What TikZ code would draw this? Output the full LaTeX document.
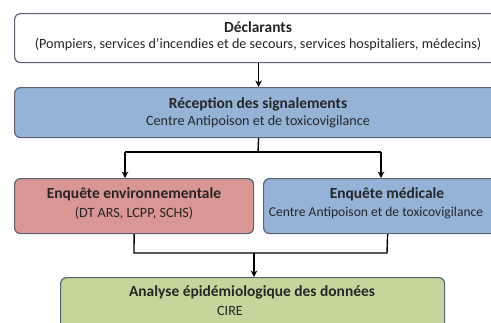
\documentclass[tikz,border=0pt]{standalone}
\usepackage{fontspec}
\setmainfont{Carlito}
\usetikzlibrary{arrows.meta}
\definecolor{bordc}{RGB}{90,100,115}
\definecolor{bluef}{RGB}{149,179,215}
\definecolor{redf}{RGB}{217,150,148}
\definecolor{greenf}{RGB}{195,214,155}
\tikzset{
  box/.style={draw=bordc, line width=1.2pt, rounded corners=6pt, inner sep=0pt, anchor=north west},
  ttl/.style={font=\fontsize{15.5}{17}\selectfont\bfseries, text=black!85},
  sub/.style={font=\fontsize{14.2}{16}\selectfont, text=black!85},
  conn/.style={line width=1.4pt, black},
  arr/.style={conn, -{Stealth[length=6.5pt,width=6.5pt]}}
}
\begin{document}
\begin{tikzpicture}[x=1bp,y=-1bp]
\clip (0,0) rectangle (491,322);
\fill[white] (0,0) rectangle (491,322);
% boxes
\node[box, fill=white, minimum width=488bp, minimum height=49bp] (decl) at (14,13) {};
\node[box, fill=bluef, minimum width=488bp, minimum height=50bp] (rec) at (14,87) {};
\node[box, fill=redf, minimum width=239bp, minimum height=55bp] (env) at (14,178) {};
\node[box, fill=bluef, minimum width=248bp, minimum height=55bp] (med) at (263,178) {};
\node[box, fill=greenf, minimum width=384bp, minimum height=70bp] (ana) at (60,277) {};
% texts
\node[ttl] (declt) at (258,27) {Déclarants};
\node[sub] (decls) at (258,44) {(Pompiers, services d’incendies et de secours, services hospitaliers, médecins)};
\node[ttl] (rect) at (258,104) {Réception des signalements};
\node[sub] (recs) at (258,122) {Centre Antipoison et de toxicovigilance};
\node[ttl] (envt) at (134,194) {Enquête environnementale};
\node[sub] (envs) at (134,213) {(DT ARS, LCPP, SCHS)};
\node[ttl] (medt) at (387,194) {Enquête médicale};
\node[sub, font=\fontsize{13.6}{16}\selectfont, inner sep=1pt] (meds) at (376,213) {Centre Antipoison et de toxicovigilance};
\node[ttl] (anat) at (252,292) {Analyse épidémiologique des données};
\node[sub] (anas) at (230,311) {CIRE};
% connectors
\coordinate (s1) at (258,152);
\coordinate (sl) at (125,152);
\coordinate (sr) at (381,152);
\draw[arr] (decl.south) -- (rec.north);
\draw[conn] (rec.south) -- (s1);
\draw[conn] (sl) -- (sr);
\draw[arr] (sl) -- (sl |- env.north);
\draw[arr] (sr) -- (sr |- med.north);
\coordinate (jl) at (134,253);
\coordinate (jr) at (387,253);
\coordinate (jm) at (254,253);
\draw[conn] (env.south) -- (jl) -- (jr) -- (med.south);
\draw[arr] (jm) -- (jm |- ana.north);
\end{tikzpicture}
\end{document}
